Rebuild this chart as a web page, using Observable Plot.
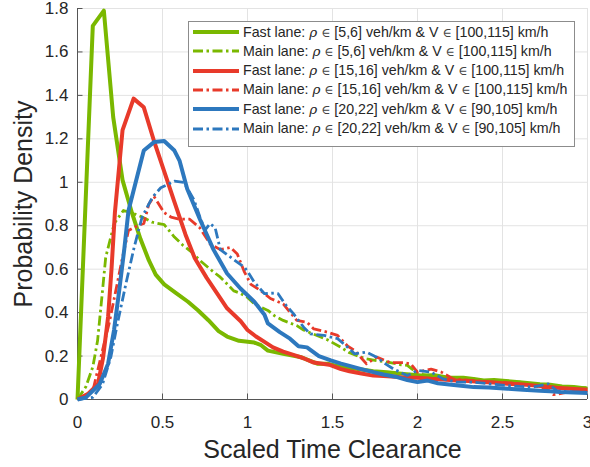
<!DOCTYPE html>
<html>
<head>
<meta charset="utf-8">
<script src="https://cdn.jsdelivr.net/npm/d3@7"></script>
<script src="https://cdn.jsdelivr.net/npm/@observablehq/plot@0.6"></script>
<style>
  html, body { margin: 0; padding: 0; background: #fff; }
  #wrap { position: relative; width: 590px; height: 467px; font-family: "Liberation Sans", Arial, Helvetica, sans-serif; }
  #legend { position: absolute; left: 188px; top: 21px; width: 387px; height: 126px; box-sizing: border-box;
            border: 1px solid #8c8c8c; background: #fff; color: #262626; font-size: 14.2px; }
  .row { position: absolute; left: 0; height: 19px; line-height: 19px; white-space: nowrap; }
  .row svg { position: absolute; left: 4px; top: 5.5px; }
  .row span.t { position: absolute; left: 54px; top: 0; }
  .g { font-family: "DejaVu Serif", "Liberation Serif", serif; font-style: italic; font-size: 13.5px; }
  .e { font-family: "DejaVu Serif", "Liberation Serif", serif; font-size: 12.5px; color: #444; }
</style>
</head>
<body>
<div id="wrap"></div>
<script>
// ---- data ----
const xTicks = [0, 0.5, 1, 1.5, 2, 2.5, 3];
const yTicks = [0, 0.2, 0.4, 0.6, 0.8, 1, 1.2, 1.4, 1.6, 1.8];
const xLabel = "Scaled Time Clearance";
const yLabel = "Probability Density";

const seriesNames = [
  ["Fast lane:", "[5,6]", "[100,115]"],
  ["Main lane:", "[5,6]", "[100,115]"],
  ["Fast lane:", "[15,16]", "[100,115]"],
  ["Main lane:", "[15,16]", "[100,115]"],
  ["Fast lane:", "[20,22]", "[90,105]"],
  ["Main lane:", "[20,22]", "[90,105]"]
];

const greenFast = [[0,0],[0.09,1.72],[0.155,1.79],[0.21,1.30],[0.265,1.01],[0.32,0.86],[0.37,0.74],[0.42,0.64],[0.46,0.575],[0.51,0.53],[0.58,0.49],[0.65,0.45],[0.71,0.41],[0.77,0.365],[0.83,0.315],[0.88,0.29],[0.95,0.27],[1.04,0.262],[1.08,0.25],[1.12,0.225],[1.21,0.21],[1.31,0.196],[1.41,0.165],[1.47,0.165],[1.55,0.15],[1.65,0.14],[1.74,0.13],[1.82,0.126],[1.92,0.118],[2.02,0.11],[2.1,0.112],[2.18,0.1],[2.27,0.1],[2.33,0.095],[2.39,0.088],[2.45,0.09],[2.52,0.085],[2.6,0.08],[2.66,0.075],[2.72,0.07],[2.78,0.068],[2.85,0.06],[2.92,0.058],[3.0,0.05]];

const greenMain = [[0,0],[0.05,0.06],[0.09,0.15],[0.118,0.27],[0.147,0.5],[0.166,0.655],[0.216,0.81],[0.27,0.87],[0.33,0.856],[0.38,0.84],[0.44,0.816],[0.51,0.805],[0.57,0.748],[0.62,0.71],[0.67,0.68],[0.72,0.64],[0.78,0.6],[0.84,0.563],[0.92,0.5],[0.96,0.488],[1.0,0.47],[1.04,0.44],[1.08,0.425],[1.12,0.41],[1.16,0.385],[1.21,0.364],[1.29,0.34],[1.33,0.32],[1.39,0.30],[1.47,0.275],[1.55,0.24],[1.6,0.215],[1.65,0.2],[1.7,0.187],[1.77,0.178],[1.84,0.17],[1.9,0.16],[1.94,0.157],[2.0,0.12],[2.06,0.11],[2.12,0.1],[2.2,0.1],[2.27,0.097],[2.33,0.095],[2.38,0.085],[2.43,0.08],[2.5,0.085],[2.6,0.08],[2.67,0.07],[2.73,0.065],[2.8,0.057],[2.87,0.058],[2.93,0.055],[3.0,0.054]];

const redFast = [[0,0],[0.06,0.025],[0.12,0.07],[0.15,0.19],[0.18,0.38],[0.2,0.6],[0.22,0.86],[0.265,1.24],[0.33,1.385],[0.39,1.345],[0.45,1.19],[0.51,1.05],[0.57,0.91],[0.635,0.76],[0.69,0.65],[0.76,0.56],[0.82,0.49],[0.88,0.42],[0.92,0.39],[0.96,0.36],[1.0,0.32],[1.05,0.29],[1.1,0.265],[1.15,0.24],[1.21,0.22],[1.27,0.205],[1.33,0.19],[1.39,0.17],[1.48,0.16],[1.55,0.14],[1.6,0.13],[1.67,0.12],[1.74,0.11],[1.8,0.108],[1.87,0.105],[1.93,0.1],[2.0,0.1],[2.08,0.095],[2.15,0.092],[2.23,0.087],[2.3,0.085],[2.38,0.08],[2.45,0.078],[2.53,0.072],[2.6,0.07],[2.68,0.065],[2.75,0.06],[2.82,0.054],[2.9,0.05],[3.0,0.045]];

const redMain = [[0,0],[0.09,0.04],[0.147,0.226],[0.186,0.35],[0.225,0.5],[0.265,0.655],[0.3,0.778],[0.353,0.80],[0.39,0.81],[0.42,0.9],[0.45,0.935],[0.51,0.86],[0.55,0.84],[0.6,0.83],[0.66,0.83],[0.72,0.79],[0.78,0.716],[0.84,0.69],[0.9,0.70],[0.94,0.67],[0.98,0.59],[1.02,0.53],[1.08,0.5],[1.135,0.465],[1.21,0.44],[1.29,0.364],[1.35,0.356],[1.39,0.325],[1.47,0.31],[1.53,0.295],[1.59,0.245],[1.63,0.226],[1.7,0.164],[1.76,0.195],[1.84,0.17],[1.92,0.17],[1.96,0.164],[2.0,0.126],[2.08,0.14],[2.14,0.126],[2.21,0.095],[2.27,0.09],[2.33,0.087],[2.43,0.08],[2.52,0.078],[2.6,0.072],[2.68,0.065],[2.72,0.057],[2.76,0.05],[2.8,0.022],[2.86,0.03],[2.92,0.04],[3.0,0.038]];

const blueFast = [[0,0],[0.05,0.01],[0.13,0.07],[0.18,0.165],[0.215,0.32],[0.245,0.5],[0.275,0.69],[0.3,0.87],[0.39,1.146],[0.45,1.185],[0.51,1.19],[0.57,1.146],[0.6,1.1],[0.645,0.97],[0.72,0.83],[0.8,0.69],[0.88,0.58],[0.96,0.51],[1.04,0.45],[1.1,0.39],[1.12,0.35],[1.19,0.31],[1.25,0.28],[1.3,0.245],[1.35,0.24],[1.42,0.2],[1.49,0.18],[1.55,0.165],[1.6,0.155],[1.67,0.14],[1.74,0.126],[1.8,0.115],[1.87,0.105],[1.94,0.09],[2.0,0.08],[2.06,0.087],[2.12,0.075],[2.2,0.068],[2.27,0.062],[2.33,0.057],[2.42,0.055],[2.53,0.05],[2.62,0.045],[2.72,0.04],[2.78,0.038],[2.84,0.034],[2.92,0.032],[3.0,0.03]];

const blueMain = [[0,0],[0.09,0.01],[0.147,0.07],[0.196,0.195],[0.235,0.35],[0.284,0.53],[0.333,0.70],[0.38,0.84],[0.44,0.93],[0.49,0.975],[0.57,1.005],[0.625,1.0],[0.685,0.92],[0.72,0.84],[0.75,0.78],[0.78,0.81],[0.81,0.79],[0.84,0.69],[0.9,0.655],[0.98,0.61],[1.0,0.59],[1.04,0.54],[1.1,0.487],[1.155,0.49],[1.18,0.487],[1.22,0.44],[1.27,0.395],[1.33,0.333],[1.37,0.302],[1.45,0.295],[1.53,0.28],[1.59,0.24],[1.63,0.21],[1.7,0.218],[1.76,0.195],[1.8,0.17],[1.86,0.14],[1.94,0.11],[2.0,0.134],[2.08,0.126],[2.15,0.095],[2.23,0.08],[2.33,0.08],[2.42,0.072],[2.53,0.064],[2.6,0.06],[2.68,0.057],[2.77,0.072],[2.82,0.04],[2.92,0.034],[3.0,0.033]];

// ---- styles ----
const GREEN = "#7ab800", RED = "#e83a2a", BLUE = "#2d78be";
const DASHDOT = "10,3.5,2.5,3.5";
const series = [
  {data: greenFast, color: GREEN, dash: null},
  {data: greenMain, color: GREEN, dash: DASHDOT},
  {data: redFast, color: RED, dash: null},
  {data: redMain, color: RED, dash: DASHDOT},
  {data: blueFast, color: BLUE, dash: null},
  {data: blueMain, color: BLUE, dash: DASHDOT}
];

const lineMarks = series.map(s => Plot.line(s.data, {
  x: d => d[0], y: d => d[1], stroke: s.color,
  strokeWidth: s.dash ? 2.8 : 4, strokeDasharray: s.dash || undefined,
  strokeLinejoin: "round", strokeLinecap: "butt"
}));

const chart = Plot.plot({
  width: 590, height: 467,
  marginLeft: 77, marginRight: 3, marginTop: 8, marginBottom: 68,
  x: {domain: [0, 3]},
  y: {domain: [0, 1.8]},
  style: {fontFamily: "'Liberation Sans', Arial, Helvetica, sans-serif", fontSize: "17px", color: "#262626", background: "#fff", overflow: "visible"},
  marks: [
    Plot.gridX(xTicks, {stroke: "#e3e3e3", strokeOpacity: 1}),
    Plot.gridY(yTicks, {stroke: "#e3e3e3", strokeOpacity: 1}),
    Plot.axisX(xTicks, {tickSize: 0, tickPadding: 16, tickFormat: d => String(d), label: null, fontSize: 17}),
    Plot.axisY(yTicks, {tickSize: 0, tickPadding: 9, tickFormat: d => String(d), label: null, fontSize: 17}),
    Plot.ruleX([0], {stroke: "#555", strokeWidth: 1}),
    Plot.ruleY([0], {stroke: "#555", strokeWidth: 1}),
    Plot.tickX(xTicks, {x: d => d, stroke: "#555", insetTop: 385.5}),
    Plot.tickY(yTicks, {y: d => d, stroke: "#555", insetRight: 504.5}),
    ...lineMarks,
    Plot.text([xLabel], {frameAnchor: "bottom", dy: 41, lineAnchor: "top", textAnchor: "middle", fontSize: 25, text: d => d, fill: "#262626"}),
    Plot.text([yLabel], {frameAnchor: "left", dx: -54, rotate: -90, textAnchor: "middle", lineAnchor: "middle", fontSize: 25, text: d => d, fill: "#262626"})
  ]
});

const wrap = document.getElementById("wrap");
wrap.appendChild(chart);

// ---- legend ----
const legend = document.createElement("div");
legend.id = "legend";
const rowCenters = [11, 30.3, 49.6, 68.9, 88.2, 107.5];
seriesNames.forEach((n, i) => {
  const s = series[i];
  const row = document.createElement("div");
  row.className = "row";
  row.style.top = (rowCenters[i] - 1 - 9.5) + "px";
  const sw = s.dash ? 2.8 : 4;
  row.innerHTML =
    `<svg width="46" height="8"><line x1="0" y1="4" x2="46" y2="4" stroke="${s.color}" stroke-width="${sw}" ${s.dash ? `stroke-dasharray="${s.dash}"` : ""}/></svg>` +
    `<span class="t">${n[0]} <span class="g">ρ</span> <span class="e">∈</span> ${n[1]} veh/km &amp; V <span class="e">∈</span> ${n[2]} km/h</span>`;
  legend.appendChild(row);
});
wrap.appendChild(legend);
</script>
</body>
</html>
